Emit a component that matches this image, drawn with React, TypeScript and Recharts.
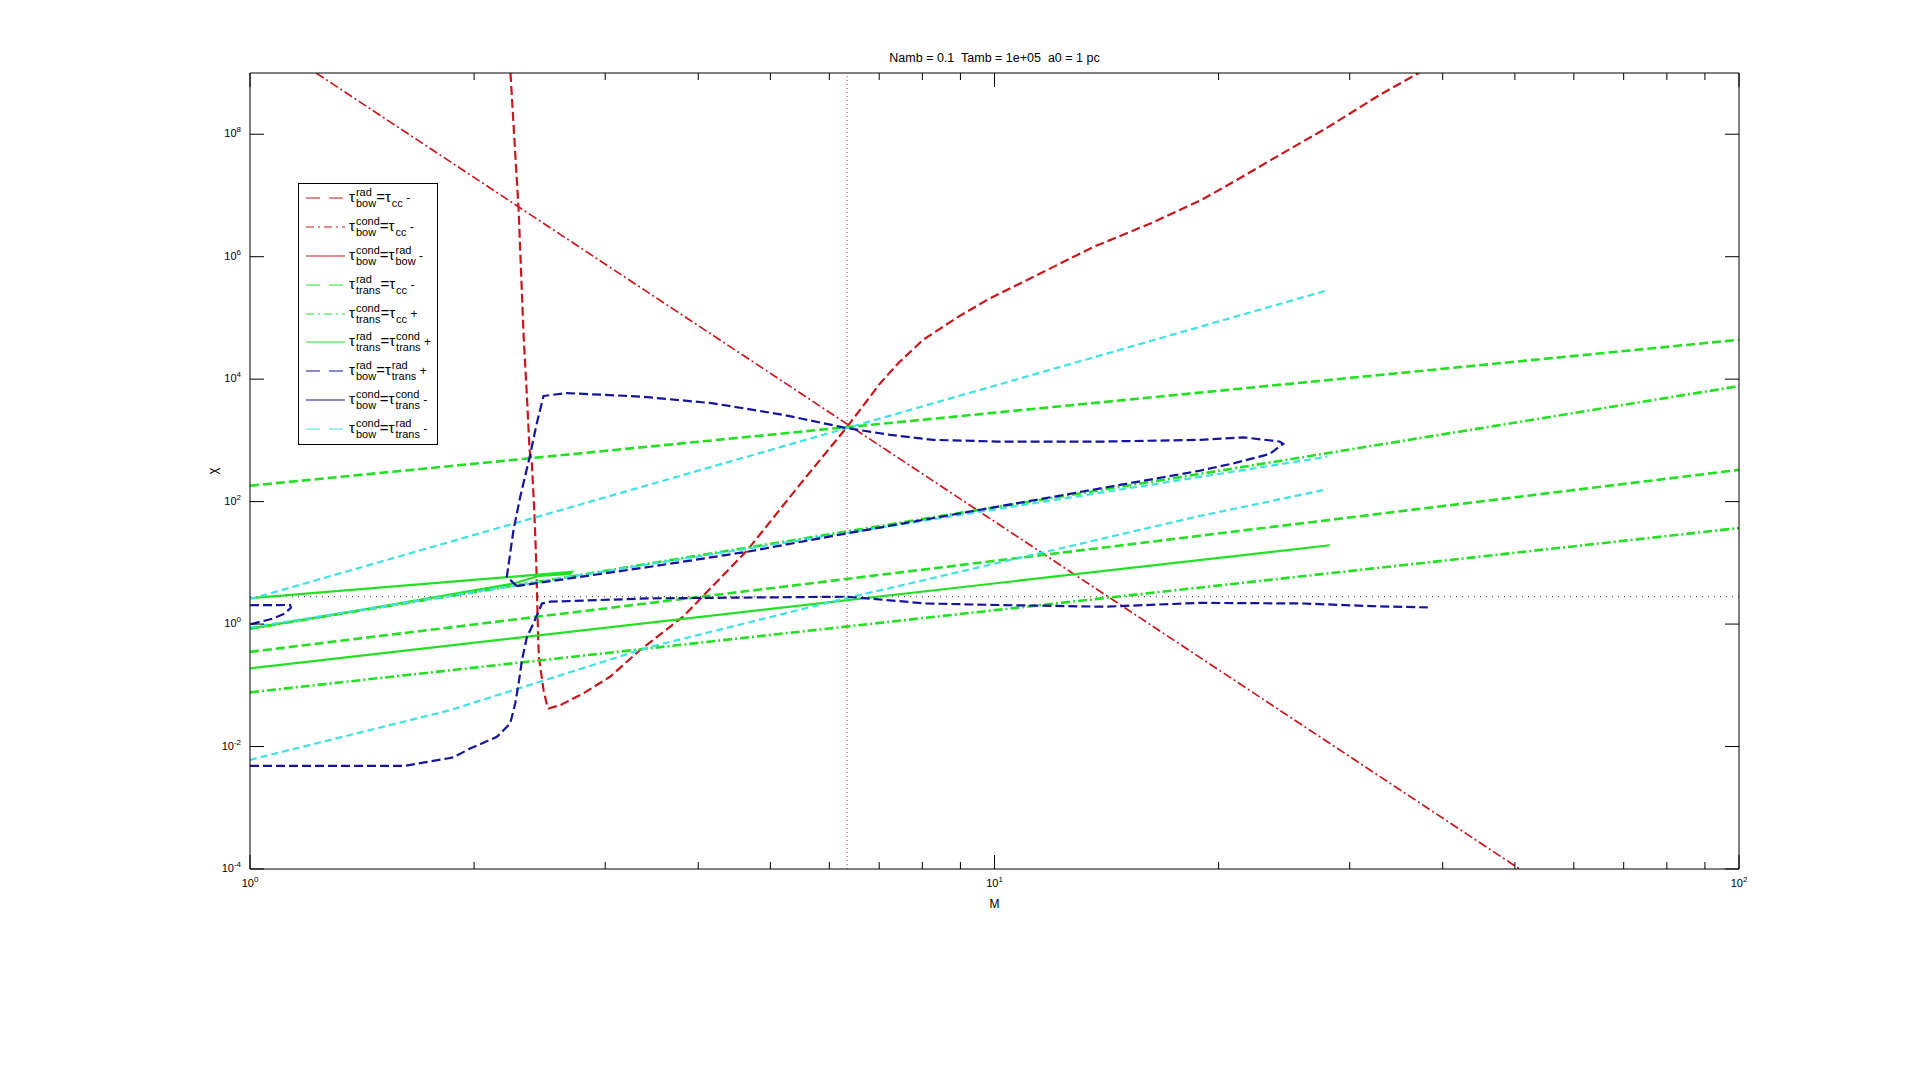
import React from "react";
import { LineChart, Line, XAxis, YAxis, ReferenceLine, Legend } from "recharts";

type Pt = [number, number];

const titleText = "Namb = 0.1  Tamb = 1e+05  a0 = 1 pc";
const xLabelText = "M";
const yLabelText = "χ";

const xTicks = [1, 2, 3, 4, 5, 6, 7, 8, 9, 10, 20, 30, 40, 50, 60, 70, 80, 90, 100];
const yTicks = [1e-4, 1e-2, 1, 1e2, 1e4, 1e6, 1e8];

// dotted guide lines
const mCrit = 6.34;
const chiCrit = 2.8;

// tau_bow^rad = tau_cc (red dashed)
const redRadBowCc: Pt[] = [
  [2.238, 1e9], [2.271, 4.98e7], [2.295, 5.88e6], [2.312, 6.14e5], [2.331, 4.99e4],
  [2.355, 5200], [2.374, 700], [2.391, 424], [2.41, 64.4], [2.424, 9.82], [2.434, 1.32],
  [2.443, 0.292], [2.479, 0.0834], [2.509, 0.0445], [2.517, 0.0419], [2.609, 0.0474],
  [2.804, 0.0736], [3.045, 0.138], [3.342, 0.377], [3.817, 1.32], [4.656, 16.1],
  [5.497, 200], [6.344, 1680], [7.024, 8600], [7.423, 1.82e4], [8.021, 4.41e4],
  [8.96, 1.06e5], [9.78, 1.98e5], [11.55, 5.42e5], [13.63, 1.47e6], [16.26, 3.56e6],
  [18.99, 8.53e6], [21.21, 1.82e7], [24.21, 4.67e7], [27.95, 1.27e8], [33.0, 4.47e8],
  [37.05, 9.84e8], [37.2, 1e9],
];

// tau_bow^cond = tau_cc (red dash-dot)
const redCondBowCc: Pt[] = [[1.227, 1e9], [6.344, 1840], [50.74, 1e-4]];

// tau_trans^rad = tau_cc (green dashed)
const greenRadCcA: Pt[] = [[1, 182], [100, 4.4e4]];
const greenRadCcB: Pt[] = [[1, 0.352], [100, 330]];
// tau_trans^cond = tau_cc (green dash-dot)
const greenCondCcA: Pt[] = [[1, 0.843], [100, 7700]];
const greenCondCcB: Pt[] = [[1, 0.0767], [100, 37]];

// tau_trans^rad = tau_trans^cond (green solid)
const greenSolidA: Pt[] = [[1, 0.19], [28.2, 19.4]];
const greenSolidLoop: Pt[] = [
  [1, 2.64], [2.707, 7.14], [2.69, 6.58], [2.447, 6.14], [2.267, 4.65], [1.439, 1.77], [1, 0.843],
];

// tau_bow^rad = tau_trans^rad (blue dashed)
const blueLower: Pt[] = [
  [1, 0.00482], [1.612, 0.00482], [1.876, 0.00665], [1.975, 0.00927], [2.146, 0.0144],
  [2.236, 0.0238], [2.271, 0.0504], [2.295, 0.107], [2.319, 0.258], [2.355, 0.619],
  [2.391, 0.904], [2.424, 1.32], [2.467, 2.17], [2.531, 2.32], [3.449, 2.63], [6.344, 2.8],
  [8.091, 2.17], [10.09, 2.05], [14.04, 1.92], [18.9, 2.22], [26.0, 2.17], [32.2, 1.96],
  [38.19, 1.87],
];
const blueSmallLoop: Pt[] = [
  [1, 2.03], [1.132, 2.05], [1.135, 1.85], [1.112, 1.47], [1.071, 1.22], [1.0095, 1.02], [1, 1.0],
];
const blueLoop: Pt[] = [
  [2.282, 4.18], [2.213, 5.91], [2.259, 34.4], [2.307, 121], [2.373, 514], [2.428, 1910],
  [2.479, 5320], [2.665, 5920], [3.343, 5200], [4.17, 4060], [5.2, 2620], [6.344, 1580],
  [7.246, 1230], [8.274, 1020], [10.09, 958], [14.04, 958], [18.9, 1020], [21.63, 1120],
  [24.14, 958], [24.42, 877], [23.42, 601], [20.98, 424], [18.9, 321], [9.537, 73],
  [6.344, 30.4], [4.656, 15.2], [3.449, 8.63], [2.282, 4.18],
];

// tau_bow^cond = tau_trans^rad (cyan dashed)
const cyanUpper: Pt[] = [[1, 2.55], [27.95, 2.81e5]];
const cyanMiddle: Pt[] = [[1, 0.88], [27.99, 540]];
const cyanLower: Pt[] = [
  [1, 0.00607], [1.857, 0.0393], [3.449, 0.425], [6.344, 2.67], [18.66, 56.6], [28.0, 159],
];

const RED = "#c8161d";
const GREEN = "#22e022";
const BLUE = "#14149c";
const CYAN = "#3fe2e2";
const FONT = "'Liberation Sans', Arial, sans-serif";

const DASH = "9 4";
const DASHDOT = "9 3 2 3";

const series = [
  { key: "rrc", data: redRadBowCc, color: RED, dash: DASH, w: 2.2 },
  { key: "rcc", data: redCondBowCc, color: RED, dash: DASHDOT, w: 1.7 },
  { key: "grA", data: greenRadCcA, color: GREEN, dash: DASH, w: 2.6 },
  { key: "grB", data: greenRadCcB, color: GREEN, dash: DASH, w: 2.6 },
  { key: "gcA", data: greenCondCcA, color: GREEN, dash: DASHDOT, w: 2.6 },
  { key: "gcB", data: greenCondCcB, color: GREEN, dash: DASHDOT, w: 2.6 },
  { key: "gsA", data: greenSolidA, color: GREEN, dash: undefined, w: 2.2 },
  { key: "gsL", data: greenSolidLoop, color: GREEN, dash: undefined, w: 2.2 },
  { key: "cU", data: cyanUpper, color: CYAN, dash: "7 4", w: 2.2 },
  { key: "cM", data: cyanMiddle, color: CYAN, dash: "7 4", w: 2.2 },
  { key: "cL", data: cyanLower, color: CYAN, dash: "7 4", w: 2.2 },
  { key: "bL", data: blueLower, color: BLUE, dash: DASH, w: 2.2 },
  { key: "bS", data: blueSmallLoop, color: BLUE, dash: DASH, w: 2.2 },
  { key: "bO", data: blueLoop, color: BLUE, dash: DASH, w: 2.2 },
];

const legendEntries = [
  { color: RED, dash: "14 9", sym: ["rad", "bow"], rhs: ["", "cc"], sign: "-" },
  { color: RED, dash: "8 4 2 4", sym: ["cond", "bow"], rhs: ["", "cc"], sign: "-" },
  { color: RED, dash: "", sym: ["cond", "bow"], rhs: ["rad", "bow"], sign: "-" },
  { color: GREEN, dash: "14 9", sym: ["rad", "trans"], rhs: ["", "cc"], sign: "-" },
  { color: GREEN, dash: "8 4 2 4", sym: ["cond", "trans"], rhs: ["", "cc"], sign: "+" },
  { color: GREEN, dash: "", sym: ["rad", "trans"], rhs: ["cond", "trans"], sign: "+" },
  { color: BLUE, dash: "14 9", sym: ["rad", "bow"], rhs: ["rad", "trans"], sign: "+" },
  { color: BLUE, dash: "", sym: ["cond", "bow"], rhs: ["cond", "trans"], sign: "-" },
  { color: CYAN, dash: "14 9", sym: ["cond", "bow"], rhs: ["rad", "trans"], sign: "-" },
];

const toRows = (pts: Pt[]) => pts.map(([x, y]) => ({ x, y }));

const expOf = (v: number) => Math.round(Math.log10(v));
const isDecade = (v: number) => Math.abs(Math.log10(v) - expOf(v)) < 1e-9;

const XTick = (props: any) => {
  const { x, y, payload, side } = props;
  const v = payload.value;
  const major = isDecade(v);
  const len = major ? 14 : 7;
  const inward = side === "top" ? len : -len;
  return (
    <g>
      <line x1={x} x2={x} y1={y} y2={y + inward} stroke="#000" strokeWidth={1} />
      {side === "bottom" && major && (
        <text x={x} y={y + 18} textAnchor="middle" fontSize={11} fontFamily={FONT} fill="#000">
          10<tspan dy={-5} fontSize={8}>{expOf(v)}</tspan>
        </text>
      )}
    </g>
  );
};

const YTick = (props: any) => {
  const { x, y, payload, side } = props;
  const v = payload.value;
  const inward = side === "left" ? 14 : -14;
  return (
    <g>
      <line x1={x} x2={x + inward} y1={y} y2={y} stroke="#000" strokeWidth={1} />
      {side === "left" && (
        <text x={x - 9} y={y + 3} textAnchor="end" fontSize={11} fontFamily={FONT} fill="#000">
          10<tspan dy={-5} fontSize={8}>{expOf(v)}</tspan>
        </text>
      )}
    </g>
  );
};

const TitleLabel = (props: any) => {
  const { x, y, width, height } = props.viewBox;
  return (
    <text x={x + width / 2} y={y + height - 11} textAnchor="middle" fontSize={12.5} fontFamily={FONT}
      fill="#000" style={{ whiteSpace: "pre" }}>
      {titleText}
    </text>
  );
};

const XLabel = (props: any) => {
  const { x, y, width } = props.viewBox;
  return (
    <text x={x + width / 2} y={y + 39} textAnchor="middle" fontSize={12} fontFamily={FONT} fill="#000">
      {xLabelText}
    </text>
  );
};

const YLabel = (props: any) => {
  const { x, y, width, height } = props.viewBox;
  return (
    <text transform={`translate(${x + width - 33},${y + height / 2}) rotate(-90)`} textAnchor="middle"
      fontSize={13} fontFamily={FONT} fill="#000">
      {yLabelText}
    </text>
  );
};

const Stack = ({ sup, sub }: { sup: string; sub: string }) => (
  <span style={{ display: "inline-flex", flexDirection: "column", fontSize: 11, lineHeight: "11px",
    verticalAlign: "middle", marginLeft: 1 }}>
    <span>{sup || "\u00a0"}</span>
    <span>{sub}</span>
  </span>
);

const LegendBox = () => (
  <div style={{ border: "1px solid #000", background: "#fff", width: 138, height: 260,
    fontFamily: FONT, color: "#000", boxSizing: "content-box" }}>
    {legendEntries.map((e, i) => (
      <div key={i} style={{ height: 28.8, display: "flex", alignItems: "center" }}>
        <svg width={50} height={10} style={{ flex: "none" }}>
          <line x1={7} x2={46} y1={5} y2={5} stroke={e.color} strokeWidth={1.2}
            strokeDasharray={e.dash || undefined} />
        </svg>
        <span style={{ fontSize: 15, whiteSpace: "nowrap" }}>
          τ<Stack sup={e.sym[0]} sub={e.sym[1]} />=τ<Stack sup={e.rhs[0]} sub={e.rhs[1]} />
          <span style={{ fontSize: 12 }}>&nbsp;{e.sign}</span>
        </span>
      </div>
    ))}
  </div>
);

export default function App() {
  const W = 1920;
  const H = 1079;
  const AX = 20; // axis band size
  return (
    <div style={{ position: "absolute", left: 0, top: 0, width: W, height: H, background: "#fff" }}>
      <LineChart width={W} height={H}
        margin={{ top: 73 - AX, left: 250 - AX, right: W - 1739 - AX, bottom: H - 869 - AX }}>
        <XAxis xAxisId="bottom" dataKey="x" type="number" scale="log" domain={[1, 100]}
          allowDataOverflow ticks={xTicks} interval={0} height={AX} tickSize={0} tickMargin={0}
          axisLine={{ stroke: "#000" }} tickLine={false}
          tick={(p: any) => <XTick {...p} side="bottom" />} label={<XLabel />} />
        <XAxis xAxisId="top" orientation="top" dataKey="x" type="number" scale="log" domain={[1, 100]}
          allowDataOverflow ticks={xTicks} interval={0} height={AX} tickSize={0} tickMargin={0}
          axisLine={{ stroke: "#000" }} tickLine={false}
          tick={(p: any) => <XTick {...p} side="top" />} label={<TitleLabel />} />
        <YAxis yAxisId="left" dataKey="y" type="number" scale="log" domain={[1e-4, 1e9]}
          allowDataOverflow ticks={yTicks} interval={0} width={AX} tickSize={0} tickMargin={0}
          axisLine={{ stroke: "#000" }} tickLine={false}
          tick={(p: any) => <YTick {...p} side="left" />} label={<YLabel />} />
        <YAxis yAxisId="right" orientation="right" dataKey="y" type="number" scale="log"
          domain={[1e-4, 1e9]} allowDataOverflow ticks={yTicks} interval={0} width={AX}
          tickSize={0} tickMargin={0} axisLine={{ stroke: "#000" }} tickLine={false}
          tick={(p: any) => <YTick {...p} side="right" />} />
        <ReferenceLine xAxisId="bottom" yAxisId="left" y={chiCrit} stroke="#333"
          strokeDasharray="1 5" strokeWidth={1} />
        <ReferenceLine xAxisId="bottom" yAxisId="left" x={mCrit} stroke="#c04040"
          strokeDasharray="1 3" strokeWidth={1} />
        {series.map((s) => (
          <Line key={s.key} xAxisId="bottom" yAxisId="left" data={toRows(s.data)} dataKey="y"
            type="linear" stroke={s.color} strokeWidth={s.w} strokeDasharray={s.dash}
            dot={false} activeDot={false} isAnimationActive={false} />
        ))}
        <Legend layout="vertical" align="center" verticalAlign="middle" content={() => <LegendBox />}
          wrapperStyle={{ left: 298, top: 183, width: 140, height: 262 }} />
      </LineChart>
    </div>
  );
}
